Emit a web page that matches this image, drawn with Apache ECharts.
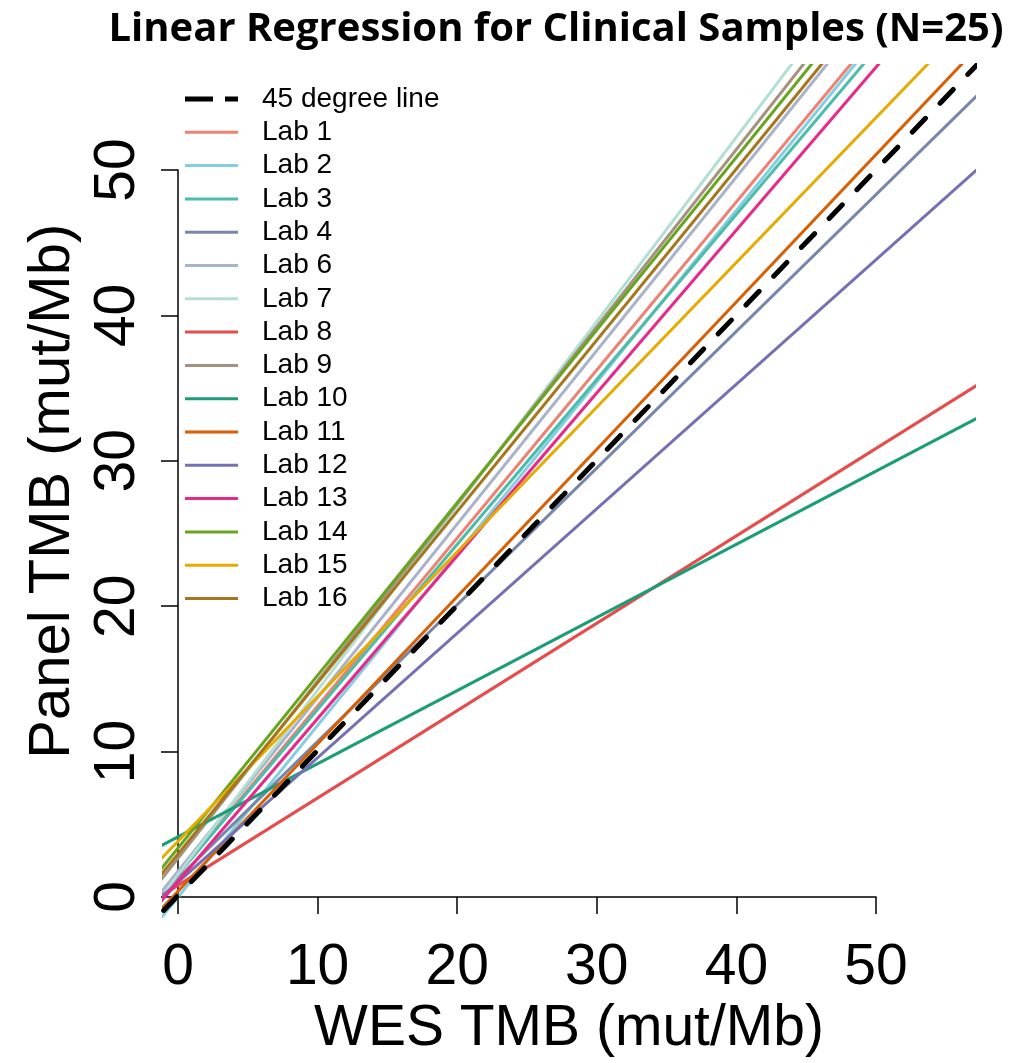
<!DOCTYPE html>
<html>
<head>
<meta charset="utf-8">
<script src="https://cdn.jsdelivr.net/npm/echarts@6/dist/echarts.min.js"></script>
<style>
  html, body { margin: 0; background: #fff; }
  #chart { width: 1011px; height: 1063px; }
</style>
</head>
<body>
<div id="chart"></div>
<script>
// regression lines: panel = intercept + slope * wes
const labs = ['Lab 1', 'Lab 2', 'Lab 3', 'Lab 4', 'Lab 6', 'Lab 7', 'Lab 8', 'Lab 9',
  'Lab 10', 'Lab 11', 'Lab 12', 'Lab 13', 'Lab 14', 'Lab 15', 'Lab 16'];
const intercepts = [1.47, -0.11, 1.45, 1.2, 1.67, 1.45, 0.7, 2.57,
  4.04, 0.3, 0.91, 0.97, 3.27, 3.74, 2.87];
const slopes = [1.158, 1.183, 1.137, 0.942, 1.196, 1.27, 0.602, 1.221,
  0.504, 1.015, 0.858, 1.122, 1.19, 0.997, 1.18];
const labColors = ['#EE8171', '#82CFE2', '#4CBCAB', '#7787AC', '#A9B2CB', '#B2DFD4', '#E74C4C', '#A5917F',
  '#1B9E77', '#D95F02', '#7570B3', '#E7298A', '#66A61E', '#E6AB02', '#A6761D'];
const refName = '45 degree line';
const axisTicks = [0, 10, 20, 30, 40, 50];
const lineEnds = [-5, 70];   // lines run past the plot edges and get clipped

const chart = echarts.init(document.getElementById('chart'));

function lineData(a, b) {
  return lineEnds.map(x => [x, a + b * x]);
}

let series = labs.map((name, i) => ({
  name,
  type: 'line',
  data: lineData(intercepts[i], slopes[i]),
  symbol: 'none',
  clip: true,
  silent: true,
  xAxisIndex: 0,
  yAxisIndex: 0,
  lineStyle: { color: labColors[i], width: 3 },
  itemStyle: { color: labColors[i] },
  z: 2
}));
series.push({
  name: refName,
  type: 'line',
  data: lineData(0, 1),
  symbol: 'none',
  clip: true,
  silent: true,
  xAxisIndex: 0,
  yAxisIndex: 0,
  lineStyle: { color: '#000', width: 5, type: [19, 21], cap: 'round' },
  itemStyle: { color: '#000' },
  z: 3
});

const tickFont = { fontFamily: 'Liberation Sans', fontSize: 57, color: '#000' };

// legend keys: plain strokes, the reference key is two dashes
const legendData = [{ name: refName, icon: 'path://M0,0h28v5h-28z M40,0h13v5h-13z' }]
  .concat(labs.map(name => ({ name, icon: 'path://M0,0h53v3h-53z' })));

chart.setOption({
  animation: false,
  backgroundColor: '#fff',
  graphic: [{
    type: 'text',
    x: 556, y: 30,
    style: {
      text: 'Linear Regression for Clinical Samples (N=25)',
      fontFamily: 'Open Sans', fontWeight: 'bold', fontSize: 40,
      fill: '#000', align: 'center', verticalAlign: 'middle'
    }
  }],
  legend: {
    data: legendData,
    orient: 'vertical',
    left: 185, top: 85, padding: 0,
    itemWidth: 53, itemHeight: 5, itemGap: 5.3,
    selectedMode: false,
    textStyle: { fontFamily: 'Liberation Sans', fontSize: 28, lineHeight: 28, color: '#000', padding: [0, 0, 0, 19] }
  },
  grid: [
    // plotting region
    { left: 163.5, right: 36.5, top: 65.5, bottom: 144.5 },
    // axis region (R axes only span the tick range)
    { left: 178, right: 135, top: 170, bottom: 166 }
  ],
  xAxis: [
    {
      gridIndex: 0, type: 'value', min: -1.04, max: 57.06,
      axisLine: { show: false }, axisTick: { show: false }, axisLabel: { show: false }, splitLine: { show: false },
      name: 'WES TMB (mut/Mb)', nameLocation: 'middle', nameGap: 84,
      nameTextStyle: tickFont
    },
    {
      gridIndex: 1, type: 'value', min: axisTicks[0], max: axisTicks[axisTicks.length - 1], interval: 10,
      position: 'bottom', offset: 33,
      axisLine: { lineStyle: { color: '#000', width: 1.5 } },
      axisTick: { length: 17, lineStyle: { color: '#000', width: 1.5 } },
      axisLabel: Object.assign({ margin: 10 }, tickFont),
      splitLine: { show: false }
    }
  ],
  yAxis: [
    {
      gridIndex: 0, type: 'value', min: -1.48, max: 57.19,
      axisLine: { show: false }, axisTick: { show: false }, axisLabel: { show: false }, splitLine: { show: false },
      name: 'Panel TMB (mut/Mb)', nameLocation: 'middle', nameGap: 82,
      nameTextStyle: Object.assign({}, tickFont, { fontSize: 58 })
    },
    {
      gridIndex: 1, type: 'value', min: axisTicks[0], max: axisTicks[axisTicks.length - 1], interval: 10,
      position: 'left', offset: 17,
      axisLine: { lineStyle: { color: '#000', width: 1.5 } },
      axisTick: { length: 17, lineStyle: { color: '#000', width: 1.5 } },
      axisLabel: Object.assign({ margin: 14, rotate: 90 }, tickFont),
      splitLine: { show: false }
    }
  ],
  series
});
</script>
</body>
</html>
